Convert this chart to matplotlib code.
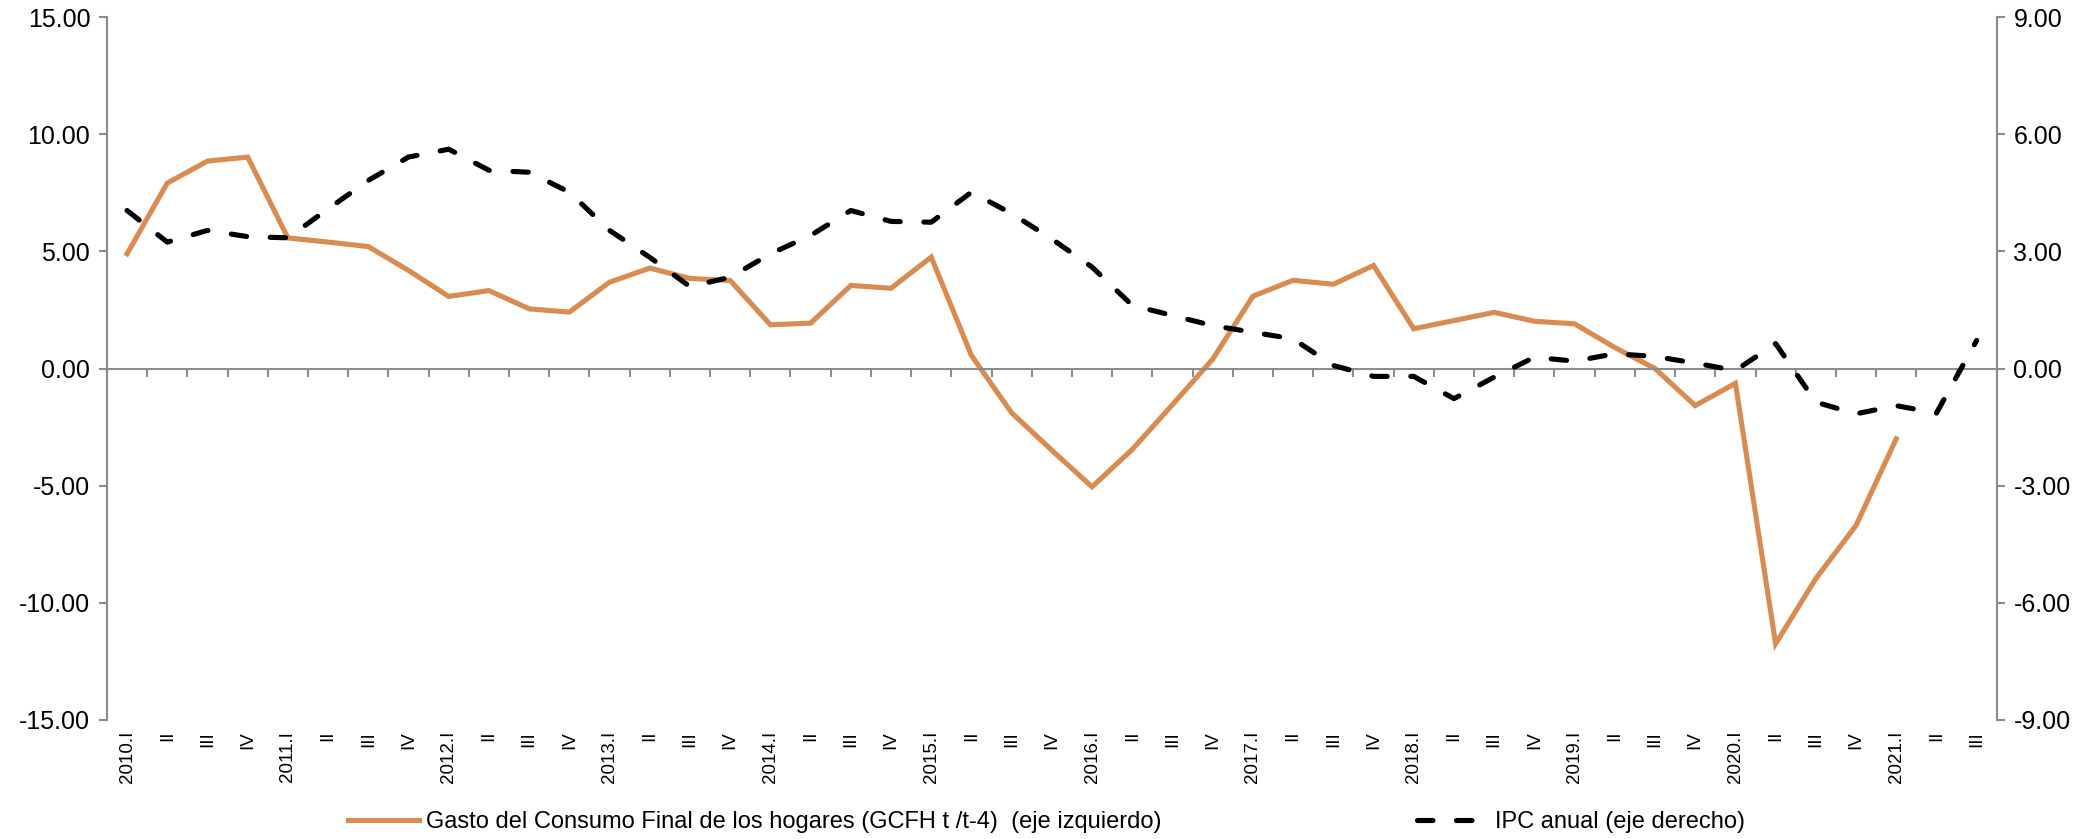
import numpy as np
import matplotlib.pyplot as plt

plt.rcParams['font.family'] = ['Liberation Sans', 'DejaVu Sans']

# trimestres 2010.I - 2021.III
quarters = []
for year in range(2010, 2022):
    for q in ['I', 'II', 'III', 'IV']:
        quarters.append(f"{year}.I" if q == 'I' else q)
quarters = quarters[:47]

# Gasto del consumo final de los hogares (eje izquierdo), termina en 2021.I
gcfh = [4.9, 7.92, 8.86, 9.03, 5.58, 5.4, 5.21, 4.19,
        3.08, 3.33, 2.55, 2.41, 3.69, 4.29, 3.85, 3.76,
        1.87, 1.94, 3.55, 3.43, 4.76, 0.56, -1.89, -3.49,
        -5.05, -3.45, -1.54, 0.4, 3.09, 3.77, 3.6, 4.4,
        1.7, 2.05, 2.4, 2.02, 1.91, 0.9, 0.0, -1.58,
        -0.63, -11.75, -8.97, -6.7, -3.0]

# IPC anual (eje derecho)
ipc = [4.05, 3.24, 3.54, 3.38, 3.35, 4.09, 4.82, 5.42,
       5.62, 5.08, 5.03, 4.52, 3.54, 2.85, 2.1, 2.34,
       2.94, 3.41, 4.05, 3.77, 3.75, 4.52, 3.97, 3.32,
       2.6, 1.62, 1.36, 1.1, 0.93, 0.76, 0.08, -0.2,
       -0.2, -0.77, -0.22, 0.29, 0.19, 0.38, 0.31, 0.14,
       -0.05, 0.64, -0.86, -1.16, -0.95, -1.14, 0.72]

orange = '#D98C52'
gray = '#8C8C8C'

fig = plt.figure(figsize=(20.97, 8.39), dpi=100)
ax = fig.add_axes([0.051, 0.142, 0.9012, 0.8374])
ax2 = ax.twinx()

x = np.arange(len(quarters))
l1, = ax.plot(x[:len(gcfh)], gcfh, color=orange, lw=3.7, solid_joinstyle='miter',
              label='Gasto del Consumo Final de los hogares (GCFH t /t-4)  (eje izquierdo)')
l2, = ax2.plot(x, ipc, color='black', lw=3.7, dashes=(3.0, 4.6),
               dash_capstyle='round', label='IPC anual (eje derecho)')

ax.set_xlim(-0.5, len(quarters) - 0.5)
ax.set_ylim(-15, 15)
ax.set_yticks(np.arange(-15, 16, 5))
ax.set_yticklabels([f"{v:.2f}" for v in np.arange(-15, 16, 5)])
ax2.set_ylim(-9, 9)
ax2.set_yticks(np.arange(-9, 10, 3))
ax2.set_yticklabels([f"{v:.2f}" for v in np.arange(-9, 10, 3)])

for a in (ax, ax2):
    a.spines['top'].set_visible(False)
    a.spines['left'].set_color(gray)
    a.spines['right'].set_color(gray)
    a.spines['left'].set_linewidth(1.5)
    a.spines['right'].set_linewidth(1.5)
ax2.spines['bottom'].set_visible(False)

# eje de categorias cruzando en 0
ax.spines['bottom'].set_position(('data', 0))
ax.spines['bottom'].set_color(gray)
ax.spines['bottom'].set_linewidth(1.5)
ax.set_xticks(x + 0.5)
ax.set_xticklabels([])
ax.tick_params(axis='x', direction='out', length=6, width=1.5, color=gray)

# etiquetas abajo
sec = ax.secondary_xaxis(0.0)
sec.set_xticks(x)
sec.set_xticklabels(quarters, rotation=90, fontsize=13.5)
sec.tick_params(length=0, pad=8)
sec.spines['bottom'].set_visible(False)

ax.tick_params(axis='y', direction='out', length=6, width=1.5, color=gray,
               labelsize=18, pad=6)
ax2.tick_params(axis='y', direction='out', length=6, width=1.5, color=gray,
                labelsize=18, pad=6)

fig.legend(handles=[l1, l2], loc='center', bbox_to_anchor=(0.499, 0.02),
           ncol=2, frameon=False, fontsize=17, handlelength=3.0,
           handletextpad=0.3, columnspacing=10.8)

fig.savefig('out.png', dpi=100)
